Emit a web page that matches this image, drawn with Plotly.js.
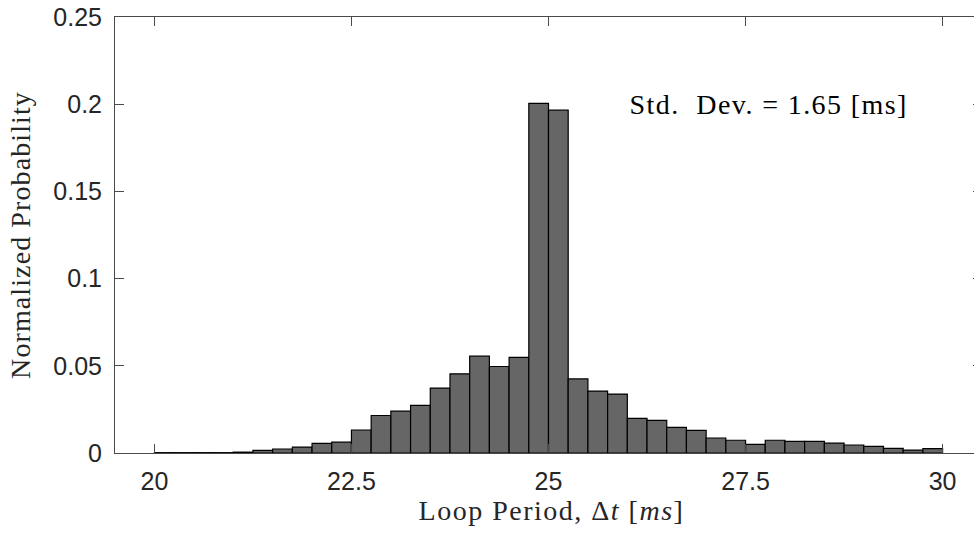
<!DOCTYPE html>
<html>
<head>
<meta charset="utf-8">
<script src="https://cdn.plot.ly/plotly-3.0.1.min.js"></script>
<style>
html, body { margin: 0; padding: 0; overflow: hidden; background: #fff; }
#chart { width: 1000px; height: 533px; }
#chart .xtitle { letter-spacing: 1.5px; transform: translate(3px, 0px); }
#chart .ytitle { letter-spacing: 1.1px; }
#chart .annotation-text { letter-spacing: 1.4px; }
</style>
</head>
<body>
<div id="chart"></div>
<script>
// Bin centers (ms), bin width 0.25 ms, from 20 to 30
var binCenters = [
  20.125, 20.375, 20.625, 20.875, 21.125, 21.375, 21.625, 21.875,
  22.125, 22.375, 22.625, 22.875, 23.125, 23.375, 23.625, 23.875,
  24.125, 24.375, 24.625, 24.875, 25.125, 25.375, 25.625, 25.875,
  26.125, 26.375, 26.625, 26.875, 27.125, 27.375, 27.625, 27.875,
  28.125, 28.375, 28.625, 28.875, 29.125, 29.375, 29.625, 29.875
];
var binWidth = 0.25;
// Normalized probability per bin
var probability = [
  0.0002, 0.0002, 0.0002, 0.0002, 0.0005, 0.0015, 0.0023, 0.0034,
  0.0055, 0.0062, 0.0132, 0.0215, 0.0240, 0.0273, 0.0372, 0.0454,
  0.0555, 0.0496, 0.0548, 0.2005, 0.1966, 0.0425, 0.0355, 0.0338,
  0.0199, 0.0187, 0.0147, 0.0130, 0.0086, 0.0073, 0.0050, 0.0073,
  0.0067, 0.0067, 0.0057, 0.0046, 0.0038, 0.0027, 0.0017, 0.0025
];
var xTickVals = [20, 22.5, 25, 27.5, 30];
var xTickText = ['20', '22.5', '25', '27.5', '30'];
var yTickVals = [0, 0.05, 0.1, 0.15, 0.2, 0.25];
var yTickText = ['0', '0.05', '0.1', '0.15', '0.2', '0.25'];
var stdDevText = 'Std.&nbsp; Dev. = 1.65 [ms]';

var serif = '"Liberation Serif", "DejaVu Serif", serif';
var sans = '"Liberation Sans", Arial, Helvetica, sans-serif';

var trace = {
  type: 'bar',
  x: binCenters,
  y: probability,
  width: binCenters.map(function () { return binWidth; }),
  marker: { color: '#666666', line: { color: '#000000', width: 1.2 } },
  hoverinfo: 'x+y'
};

var axisCommon = {
  showline: true,
  linecolor: '#4a4a4a',
  linewidth: 1,
  mirror: 'ticks',
  ticks: 'inside',
  ticklen: 9,
  tickwidth: 1,
  tickcolor: '#4a4a4a',
  showgrid: false,
  zeroline: false,
  tickfont: { family: sans, size: 25, color: '#262626' }
};

var layout = {
  width: 1000,
  height: 533,
  margin: { l: 115, r: 18, t: 17, b: 80 },
  paper_bgcolor: '#ffffff',
  plot_bgcolor: '#ffffff',
  showlegend: false,
  bargap: 0,
  xaxis: Object.assign({}, axisCommon, {
    range: [19.5, 30.5],
    tickmode: 'array',
    tickvals: xTickVals,
    ticktext: xTickText,
    ticklabelstandoff: 6,
    title: { text: 'Loop Period, \u0394<i>t</i> [<i>ms</i>]', font: { family: serif, size: 28, color: '#262626' }, standoff: 0 }
  }),
  yaxis: Object.assign({}, axisCommon, {
    range: [0, 0.25],
    tickmode: 'array',
    tickvals: yTickVals,
    ticktext: yTickText,
    ticklabelstandoff: 7,
    title: { text: 'Normalized Probability', font: { family: serif, size: 28, color: '#262626' }, standoff: 14 }
  }),
  annotations: [{
    xref: 'x', yref: 'y',
    x: 27.79, y: 0.2,
    text: stdDevText,
    showarrow: false,
    xanchor: 'center', yanchor: 'middle',
    font: { family: serif, size: 28, color: '#000000' }
  }]
};

Plotly.newPlot('chart', [trace], layout, { displayModeBar: false, staticPlot: true });
</script>
</body>
</html>
